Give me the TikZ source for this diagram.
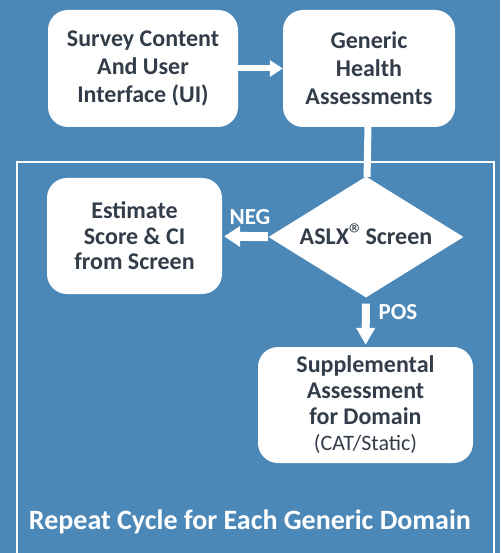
\documentclass[tikz,border=0pt]{standalone}
\usepackage{fontspec}
\setmainfont{Carlito}
\usetikzlibrary{shapes.geometric,arrows.meta}
\definecolor{bgblue}{RGB}{75,136,184}
\definecolor{boxtext}{RGB}{51,61,74}
\begin{document}
\begin{tikzpicture}[x=1pt,y=-1pt,
	box/.style={fill=white,rounded corners=20pt,inner sep=0pt,align=center,text=boxtext,font=\fontsize{24}{28}\selectfont\bfseries},
	decision/.style={diamond,fill=white,inner sep=0pt,shape aspect=1.6,minimum width=195pt,minimum height=121pt,text=boxtext,font=\fontsize{24}{28}\selectfont\bfseries},
	flow/.style={white,line width=#1},
	lbl/.style={text=white,font=\fontsize{23}{26}\selectfont\bfseries}]
		\fill[bgblue] (0,0) rectangle (500,553);
		\useasboundingbox (0,0) rectangle (500,553);
		\draw[white,line width=2pt] (17,553) |- (494,162) -- (494,553);
		\node[box,minimum width=190pt,minimum height=117pt] (survey) at (143,68.5) {Survey Content\\And User\\Interface (UI)};
		\node[box,minimum width=172pt,minimum height=117pt] (generic) at (369,68.5) {Generic\\Health\\Assessments};
		\node[decision] (screen) at (366,237) {ASLX\smash{\mdseries\fontsize{30}{30}\selectfont ®}\kern-4pt{} Screen};
		\node[box,minimum width=175pt,minimum height=116pt,font=\fontsize{24}{25.5}\selectfont\bfseries] (estimate) at (134.5,236) {Estimate\\Score \& CI\\from Screen};
		\node[box,minimum width=215pt,minimum height=116pt,font=\fontsize{24}{26}\selectfont\bfseries] (supp) at (365.5,405) {Supplemental\\Assessment\\for Domain\\{\mdseries\fontsize{22}{26}\selectfont (CAT/Static)}};
		\draw[flow=6pt,-{Triangle[length=13pt,width=16pt]}] (survey) -- (generic);
		\draw[flow=7pt] (generic) -- (screen);
		\draw[flow=9pt,-{Triangle[length=16pt,width=20pt]},shorten <=1pt,shorten >=2pt] (screen) -- (estimate);
		\draw[flow=8pt,-{Triangle[length=17pt,width=18pt]},shorten <=6pt,shorten >=2pt] (screen) -- (supp);
		\node[lbl] (neg) at (250,217) {NEG};
		\node[lbl] (pos) at (398,312) {POS};
		\node[lbl,font=\fontsize{28}{30}\selectfont\bfseries] (repeat) at (250,522) {Repeat Cycle for Each Generic Domain};
\end{tikzpicture}
\end{document}
